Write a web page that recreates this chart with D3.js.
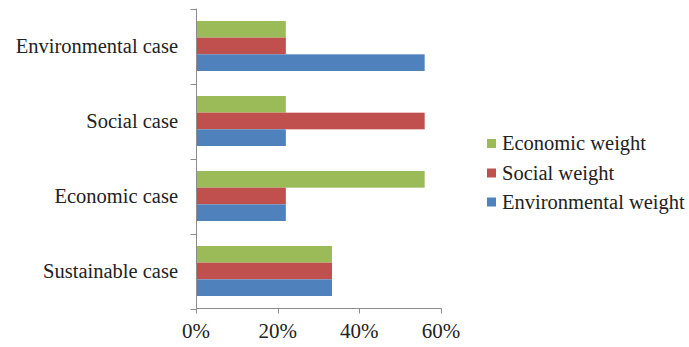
<!DOCTYPE html>
<html>
<head>
<meta charset="utf-8">
<script src="https://cdn.jsdelivr.net/npm/d3@7"></script>
<style>
  html, body { margin: 0; padding: 0; background: #fff; }
  svg { display: block; }
  text { font-family: "Liberation Serif", "DejaVu Serif", serif; fill: #222; }
</style>
</head>
<body>
<svg id="chart" width="689" height="347"></svg>
<script>
// ---- data ----
const categories = ["Environmental case", "Social case", "Economic case", "Sustainable case"];
const seriesNames = ["Economic weight", "Social weight", "Environmental weight"];
const economicWeight = [0.22, 0.22, 0.56, 0.333];
const socialWeight = [0.22, 0.56, 0.22, 0.333];
const environmentalWeight = [0.56, 0.22, 0.22, 0.333];
const xTicks = [0, 0.2, 0.4, 0.6];
const colors = ["#9BBB59", "#C0504D", "#4F81BD"];

(function () {
const seriesValues = [economicWeight, socialWeight, environmentalWeight];

const svg = d3.select("#chart");
const pLeft = 196, pRight = 441, pTop = 8.5, pBottom = 308.5;

const x = d3.scaleLinear().domain([0, 0.6]).range([pLeft, pRight]);
const y = d3.scaleBand().domain(categories).range([pTop, pBottom]).paddingInner(0).paddingOuter(0);
const yInner = d3.scaleBand().domain(seriesNames).range([0, y.bandwidth()]).paddingInner(0).paddingOuter(0.75);
const color = d3.scaleOrdinal().domain(seriesNames).range(colors);

// bars
const groups = svg.append("g").selectAll("g")
  .data(categories)
  .join("g")
  .attr("transform", d => `translate(0,${y(d)})`);

groups.selectAll("rect")
  .data((c, i) => seriesNames.map((s, j) => ({ s, v: seriesValues[j][i] })))
  .join("rect")
  .attr("x", x(0))
  .attr("y", d => yInner(d.s))
  .attr("width", d => x(d.v) - x(0))
  .attr("height", yInner.bandwidth())
  .attr("fill", d => color(d.s));

// axes
const axisColor = "#8c8c8c";
const ag = svg.append("g");
ag.append("line").attr("x1", pLeft + 0.5).attr("x2", pLeft + 0.5).attr("y1", pTop).attr("y2", pBottom)
  .attr("stroke", axisColor);
const boundaries = categories.map(c => y(c)).concat([y.range()[1]]);
ag.selectAll("line.yt").data(boundaries).join("line")
  .attr("class", "yt")
  .attr("x1", pLeft - 5.5).attr("x2", pLeft + 0.5)
  .attr("y1", d => Math.round(d) + 0.5).attr("y2", d => Math.round(d) + 0.5)
  .attr("stroke", axisColor);

ag.append("line").attr("x1", pLeft).attr("x2", pRight + 0.5).attr("y1", pBottom).attr("y2", pBottom)
  .attr("stroke", axisColor);
ag.selectAll("line.xt").data(xTicks).join("line")
  .attr("class", "xt")
  .attr("x1", d => Math.round(x(d)) + 0.5).attr("x2", d => Math.round(x(d)) + 0.5)
  .attr("y1", pBottom).attr("y2", pBottom + 5)
  .attr("stroke", axisColor);

ag.selectAll("text.xl").data(xTicks).join("text")
  .attr("class", "xl")
  .attr("x", d => x(d))
  .attr("y", 338)
  .attr("text-anchor", "middle")
  .style("font-size", "21px")
  .text(d => d3.format(".0%")(d));

// category labels
svg.append("g").selectAll("text").data(categories).join("text")
  .attr("x", 178)
  .attr("y", d => y(d) + y.bandwidth() / 2)
  .attr("dy", "0.33em")
  .attr("text-anchor", "end")
  .style("font-size", "20.5px")
  .text(d => d);

// legend
const legend = svg.append("g").attr("transform", "translate(487,0)");
const legendY = [143.5, 173, 202];
const li = legend.selectAll("g").data(seriesNames).join("g")
  .attr("transform", (d, i) => `translate(0,${legendY[i]})`);
li.append("rect").attr("x", 0).attr("y", -4.5).attr("width", 9).attr("height", 9)
  .attr("fill", d => color(d));
li.append("text").attr("x", 15).attr("dy", "0.33em")
  .style("font-size", "20.5px")
  .text(d => d);
})();
</script>
</body>
</html>
